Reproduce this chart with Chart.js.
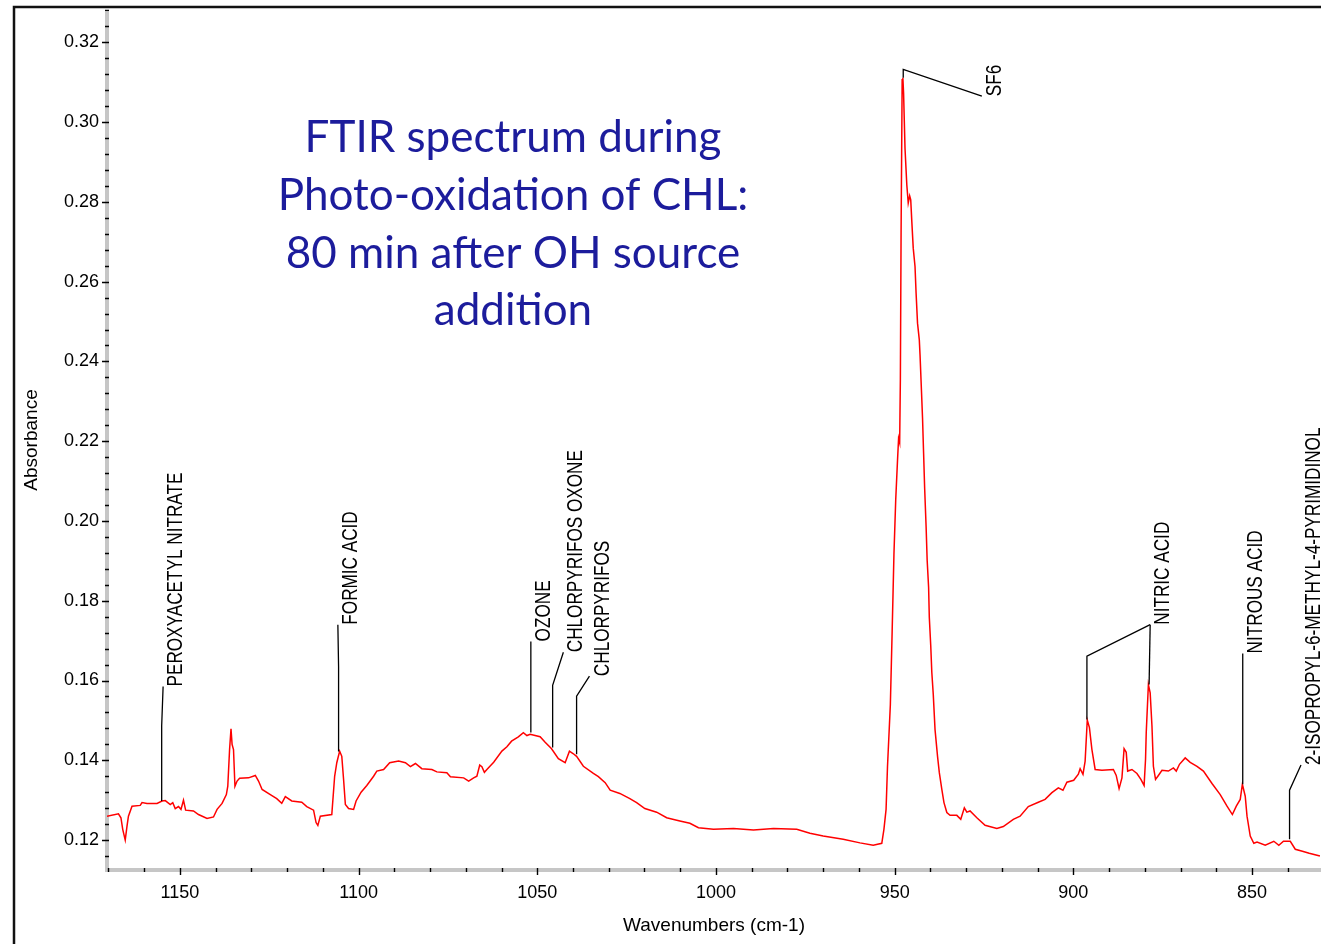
<!DOCTYPE html>
<html>
<head>
<meta charset="utf-8">
<title>FTIR spectrum</title>
<script src="https://cdn.jsdelivr.net/npm/chart.js@4.4.1/dist/chart.umd.min.js"></script>
<style>
  html, body { margin: 0; padding: 0; background: #fff; overflow: hidden; }
  #spectrum { display: block; }
</style>
</head>
<body>
<canvas id="spectrum" width="1321" height="944"></canvas>
<script>
// ---- spectrum, read along the trace from left (high cm-1) to right ----
const wavenumbers = [
  1170.4, 1167.2, 1166.5, 1166.0, 1165.3, 1164.8, 1164.4, 1163.4, 1161.1, 1160.6,
  1159.2, 1156.4, 1155.0, 1154.1, 1152.7, 1152.0, 1151.3, 1150.4, 1149.7, 1149.0,
  1148.4, 1146.2, 1144.8, 1142.4, 1140.6, 1139.6, 1138.2, 1137.0, 1136.6, 1136.1,
  1135.7, 1135.4, 1135.0, 1134.6, 1134.0, 1133.3, 1130.8, 1128.9, 1128.0, 1127.0,
  1124.7, 1122.9, 1121.5, 1120.5, 1118.7, 1115.9, 1114.5, 1112.6, 1111.9, 1111.4,
  1110.7, 1107.5, 1106.7, 1106.1, 1105.3, 1104.7, 1104.2, 1103.7, 1102.8, 1101.4,
  1100.7, 1099.3, 1097.7, 1095.8, 1094.9, 1093.0, 1091.3, 1088.8, 1086.9, 1085.5,
  1084.1, 1082.3, 1079.5, 1078.1, 1075.3, 1074.3, 1070.6, 1069.2, 1067.8, 1066.9,
  1066.1, 1065.5, 1064.8, 1064.1, 1062.2, 1059.9, 1058.5, 1057.2, 1055.3, 1053.9,
  1052.9, 1052.0, 1050.6, 1049.2, 1047.8, 1046.0, 1044.1, 1042.2, 1041.0, 1040.0,
  1039.0, 1037.1, 1034.3, 1032.9, 1031.0, 1029.6, 1026.9, 1024.1, 1022.2, 1019.9,
  1016.6, 1013.8, 1010.1, 1007.3, 1004.9, 1000.7, 995.1, 989.5, 983.9, 977.4,
  973.7, 970.0, 964.4, 959.7, 956.0, 953.6, 953.0, 952.4, 952.0, 951.2,
  950.7, 950.2, 949.7, 949.2, 948.9, 948.6, 948.4, 948.2, 947.9, 947.7,
  947.5, 947.1, 946.6, 946.2, 945.8, 945.5, 945.2, 944.8, 944.3, 944.0,
  943.6, 943.1, 942.9, 942.5, 942.2, 941.9, 941.6, 941.2, 940.9, 940.5,
  940.3, 939.9, 939.6, 939.2, 938.7, 938.0, 937.5, 936.8, 936.2, 935.4,
  934.5, 932.6, 931.5, 930.5, 929.8, 928.9, 927.0, 924.7, 921.4, 919.6,
  916.8, 914.9, 912.6, 909.8, 907.9, 906.0, 904.2, 902.9, 901.8, 899.9,
  898.6, 898.1, 897.3, 896.7, 896.1, 895.5, 894.8, 893.9, 892.0, 888.8,
  888.0, 887.2, 886.4, 885.8, 885.2, 884.8, 883.6, 882.2, 881.1, 880.2,
  879.8, 879.6, 879.0, 878.5, 878.0, 877.6, 877.0, 876.2, 875.2, 873.4,
  872.0, 871.2, 870.3, 868.7, 867.3, 865.4, 863.6, 861.2, 858.9, 857.0,
  855.5, 854.4, 853.3, 852.7, 851.9, 851.4, 850.5, 849.5, 848.6, 846.3,
  843.9, 842.5, 841.2, 839.3, 837.9, 835.9, 834.0, 831.0
];
const absorbance = [
  0.1260, 0.1266, 0.1256, 0.1227, 0.1200, 0.1235, 0.1260, 0.1285, 0.1287, 0.1294,
  0.1292, 0.1292, 0.1298, 0.1299, 0.1289, 0.1294, 0.1279, 0.1284, 0.1277, 0.1300,
  0.1275, 0.1273, 0.1264, 0.1254, 0.1258, 0.1277, 0.1292, 0.1314, 0.1335, 0.1427,
  0.1479, 0.1440, 0.1427, 0.1335, 0.1348, 0.1355, 0.1356, 0.1362, 0.1348, 0.1327,
  0.1314, 0.1304, 0.1292, 0.1309, 0.1298, 0.1295, 0.1284, 0.1275, 0.1244, 0.1237,
  0.1260, 0.1264, 0.1360, 0.1394, 0.1423, 0.1410, 0.1352, 0.1289, 0.1279, 0.1277,
  0.1298, 0.1320, 0.1337, 0.1360, 0.1373, 0.1377, 0.1394, 0.1398, 0.1394, 0.1384,
  0.1392, 0.1379, 0.1377, 0.1371, 0.1369, 0.1359, 0.1356, 0.1348, 0.1356, 0.1360,
  0.1388, 0.1384, 0.1370, 0.1377, 0.1395, 0.1423, 0.1434, 0.1448, 0.1459, 0.1469,
  0.1462, 0.1465, 0.1462, 0.1459, 0.1445, 0.1429, 0.1404, 0.1394, 0.1423, 0.1417,
  0.1410, 0.1385, 0.1367, 0.1359, 0.1344, 0.1325, 0.1317, 0.1304, 0.1294, 0.1279,
  0.1270, 0.1256, 0.1248, 0.1242, 0.1231, 0.1227, 0.1229, 0.1225, 0.1229, 0.1227,
  0.1217, 0.1210, 0.1202, 0.1193, 0.1187, 0.1192, 0.1227, 0.1277, 0.1385, 0.1540,
  0.1723, 0.1916, 0.2053, 0.2152, 0.2207, 0.2196, 0.2355, 0.2723, 0.3106, 0.3111,
  0.3072, 0.2934, 0.2843, 0.2797, 0.2815, 0.2805, 0.2751, 0.2684, 0.2638, 0.2571,
  0.2496, 0.2454, 0.2417, 0.2327, 0.2259, 0.2170, 0.2081, 0.1986, 0.1901, 0.1834,
  0.1758, 0.1687, 0.1620, 0.1566, 0.1477, 0.1410, 0.1369, 0.1327, 0.1294, 0.1269,
  0.1262, 0.1262, 0.1252, 0.1281, 0.1270, 0.1273, 0.1256, 0.1237, 0.1229, 0.1234,
  0.1252, 0.1260, 0.1284, 0.1295, 0.1302, 0.1319, 0.1331, 0.1325, 0.1345, 0.1350,
  0.1365, 0.1379, 0.1365, 0.1398, 0.1501, 0.1482, 0.1427, 0.1377, 0.1375, 0.1377,
  0.1362, 0.1329, 0.1356, 0.1429, 0.1420, 0.1373, 0.1377, 0.1367, 0.1352, 0.1337,
  0.1402, 0.1470, 0.1590, 0.1569, 0.1486, 0.1385, 0.1352, 0.1362, 0.1375, 0.1373,
  0.1381, 0.1373, 0.1390, 0.1406, 0.1395, 0.1385, 0.1373, 0.1342, 0.1314, 0.1285,
  0.1264, 0.1285, 0.1302, 0.1340, 0.1310, 0.1260, 0.1210, 0.1192, 0.1195, 0.1187,
  0.1197, 0.1187, 0.1197, 0.1197, 0.1177, 0.1172, 0.1167, 0.1160
];

const xTickValues = [1150, 1100, 1050, 1000, 950, 900, 850];
const yTickValues = [0.12, 0.14, 0.16, 0.18, 0.20, 0.22, 0.24, 0.26, 0.28, 0.30, 0.32];

// assigned bands; each leader is one or more polylines in [cm-1, absorbance],
// the label starts where the first polyline ends
const peakNames = [
  'PEROXYACETYL NITRATE', 'FORMIC ACID', 'OZONE', 'CHLORPYRIFOS OXONE',
  'CHLORPYRIFOS', 'SF6', 'NITRIC ACID', 'NITROUS ACID',
  '2-ISOPROPYL-6-METHYL-4-PYRIMIDINOL'
];
const peakLeaders = [
  [[[1155.1, 0.1298], [1155.1, 0.1486], [1154.7, 0.1585]]],
  [[[1105.6, 0.1422], [1105.6, 0.1635], [1105.8, 0.1740]]],
  [[[1051.8, 0.1470], [1051.8, 0.1698]]],
  [[[1045.7, 0.1432], [1045.7, 0.1588], [1042.7, 0.1671]]],
  [[[1039.0, 0.1415], [1039.0, 0.1561], [1035.4, 0.1611]]],
  [[[947.6, 0.3111], [947.6, 0.3132], [925.6, 0.3065]]],
  [[[896.2, 0.1502], [896.2, 0.1661], [878.5, 0.1740]],
   [[878.8, 0.1590], [878.5, 0.1740]]],
  [[[852.6, 0.1340], [852.6, 0.1668]]],
  [[[839.5, 0.1202], [839.5, 0.1325], [836.3, 0.1388]]]
];

const titleLines = [
  'FTIR spectrum during',
  'Photo-oxidation of CHL:',
  '80 min after OH source',
  'addition'
];

Chart.defaults.font.family = '"Liberation Sans", Arial, sans-serif';
Chart.defaults.color = '#000';

// outer frame, grey axis bands with major/minor ticks
const axisDecor = {
  id: 'axisDecor',
  beforeDraw(chart) {
    const { ctx } = chart;
    ctx.save();
    ctx.strokeStyle = '#111';
    ctx.lineWidth = 2.5;
    ctx.beginPath();
    ctx.moveTo(14, chart.height);
    ctx.lineTo(14, 7);
    ctx.lineTo(chart.width, 7);
    ctx.stroke();
    ctx.restore();
  },
  beforeDatasetsDraw(chart) {
    const { ctx, chartArea: a, scales: { x, y } } = chart;
    ctx.save();
    ctx.fillStyle = '#c6c6c6';
    ctx.fillRect(a.left - 2, a.top + 2, 4, a.bottom - a.top);
    ctx.fillRect(a.left - 2, a.bottom - 2, a.right - a.left + 2, 4);
    ctx.strokeStyle = '#000';
    ctx.lineWidth = 1.4;
    ctx.beginPath();
    for (let v = Math.ceil(x.min / 10) * 10; v <= x.max; v += 10) {
      const px = Math.round(x.getPixelForValue(v)) + 0.5;
      const major = v % 50 === 0;
      ctx.moveTo(px, a.bottom - 2);
      ctx.lineTo(px, a.bottom + (major ? 5 : 2));
    }
    for (let k = Math.ceil(y.min / 0.004); k * 0.004 <= y.max; k++) {
      const py = Math.round(y.getPixelForValue(k * 0.004)) + 0.5;
      const major = k % 5 === 0;
      ctx.moveTo(a.left + 2, py);
      ctx.lineTo(a.left - (major ? 5 : 2), py);
    }
    ctx.stroke();
    ctx.restore();
  }
};

// leader lines and rotated band names
const peakLabels = {
  id: 'peakLabels',
  afterDatasetsDraw(chart) {
    const { ctx, scales: { x, y } } = chart;
    ctx.save();
    ctx.strokeStyle = '#000';
    ctx.lineWidth = 1.3;
    ctx.fillStyle = '#000';
    ctx.font = '22px "Liberation Sans", Arial, sans-serif';
    ctx.textBaseline = 'middle';
    ctx.textAlign = 'left';
    peakNames.forEach((name, i) => {
      const branches = peakLeaders[i];
      branches.forEach(b => {
        ctx.beginPath();
        b.forEach(([w, v], k) => {
          const px = x.getPixelForValue(w), py = y.getPixelForValue(v);
          if (k) ctx.lineTo(px, py); else ctx.moveTo(px, py);
        });
        ctx.stroke();
      });
      const first = branches[0];
      const [w, v] = first[first.length - 1];
      ctx.save();
      ctx.translate(x.getPixelForValue(w) + 13, y.getPixelForValue(v));
      ctx.rotate(-Math.PI / 2);
      ctx.scale(0.78, 1);
      ctx.fillText(name, 0, 0);
      ctx.restore();
    });
    ctx.restore();
  }
};

// blue caption inside the plot
const captionBlock = {
  id: 'captionBlock',
  afterDraw(chart) {
    const { ctx } = chart;
    ctx.save();
    ctx.fillStyle = '#1c1c9c';
    ctx.font = '44px Lato, "Open Sans", sans-serif';
    ctx.textAlign = 'center';
    ctx.textBaseline = 'middle';
    titleLines.forEach((line, i) => ctx.fillText(line, 513, 138 + i * 57.7));
    ctx.restore();
  }
};

// keep the plot box fixed: no extra room reserved for end labels
function noLabelPadding(s) {
  s.paddingTop = 0;
  s.paddingBottom = 0;
  s.paddingLeft = 0;
  s.paddingRight = 0;
}

new Chart(document.getElementById('spectrum'), {
  type: 'line',
  data: {
    datasets: [{
      label: 'Absorbance',
      data: wavenumbers.map((w, i) => ({ x: w, y: absorbance[i] })),
      borderColor: '#ff0000',
      borderWidth: 1.5,
      pointRadius: 0,
      tension: 0,
      fill: false
    }]
  },
  options: {
    responsive: false,
    animation: false,
    events: [],
    layout: { padding: { top: 10, left: 0, right: 0, bottom: 0 } },
    plugins: { legend: { display: false }, tooltip: { enabled: false } },
    scales: {
      x: {
        type: 'linear',
        reverse: true,
        min: 830.7,
        max: 1170.4,
        afterBuildTicks: s => { s.ticks = xTickValues.map(v => ({ value: v })); },
        afterFit: s => { s.height = 74; noLabelPadding(s); },
        grid: { display: false, drawTicks: false },
        border: { display: false },
        ticks: { padding: 12, font: { size: 18 }, maxRotation: 0, autoSkip: false, callback: v => String(v) },
        title: { display: true, text: 'Wavenumbers (cm-1)', font: { size: 19 }, padding: { top: 0, bottom: 7 } }
      },
      y: {
        type: 'linear',
        min: 0.1125,
        max: 0.3281,
        afterBuildTicks: s => { s.ticks = yTickValues.map(v => ({ value: v })); },
        afterFit: s => { s.width = 107; noLabelPadding(s); },
        grid: { display: false, drawTicks: false },
        border: { display: false },
        ticks: { padding: 8, font: { size: 18 }, autoSkip: false, callback: v => v.toFixed(2) },
        title: { display: true, text: 'Absorbance', font: { size: 19 }, padding: { top: 20, bottom: 0 } }
      }
    }
  },
  plugins: [axisDecor, peakLabels, captionBlock]
});
</script>
</body>
</html>
